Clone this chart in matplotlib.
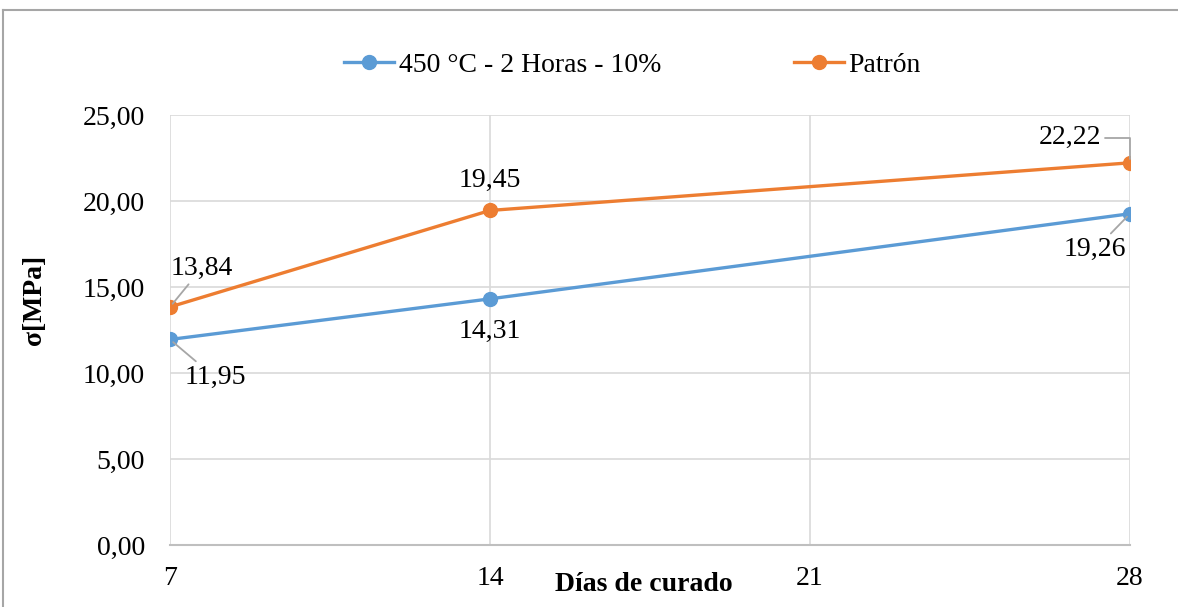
import matplotlib.pyplot as plt
from matplotlib.lines import Line2D
from matplotlib.ticker import FuncFormatter

plt.rcParams['font.family'] = ['Liberation Serif', 'DejaVu Serif']

# Resistencia a compresión por días de curado
dias = [7, 14, 28]
serie_450 = [11.95, 14.31, 19.26]
patron = [13.84, 19.45, 22.22]
nombre_450 = '450 °C - 2 Horas - 10%'
nombre_patron = 'Patrón'

azul = '#5B9BD5'
naranja = '#ED7D31'
tam = 20

fig = plt.figure(figsize=(11.78, 6.07), dpi=100)
ax = fig.add_axes([170 / 1178, 1 - 545 / 607, 960 / 1178, 430 / 607])

ax.plot(dias, serie_450, color=azul, lw=2.4, marker='o', ms=10, label=nombre_450)
ax.plot(dias, patron, color=naranja, lw=2.4, marker='o', ms=10, label=nombre_patron)

ax.set_xlim(7, 28)
ax.set_ylim(0, 25)
ax.set_xticks([7, 14, 21, 28])
ax.set_yticks([0, 5, 10, 15, 20, 25])
ax.yaxis.set_major_formatter(FuncFormatter(lambda v, p: f'{v:.2f}'.replace('.', ',')))
ax.tick_params(length=0, labelsize=tam)
ax.tick_params(axis='x', pad=15)
ax.tick_params(axis='y', pad=18)
ax.grid(True, color='#D9D9D9', lw=1.2)
ax.set_axisbelow(True)
for s in ['top', 'right', 'left']:
    ax.spines[s].set_visible(False)
ax.spines['bottom'].set_color('#BFBFBF')
ax.spines['bottom'].set_linewidth(1.5)

ax.set_xlabel('Días de curado', fontsize=tam, fontweight='bold')
ax.xaxis.set_label_coords(0.494, -0.062)
ax.set_ylabel('σ[MPa]', fontsize=tam, fontweight='bold')
ax.yaxis.set_label_coords(-0.128, 0.57)

# etiquetas de datos
guia = dict(arrowstyle='-', color='#A6A6A6', lw=1.3, shrinkA=1, shrinkB=3)
etiquetas = [
    (dias[0], patron[0], (32, 39), guia),
    (dias[0], serie_450[0], (45, -38), guia),
    (dias[1], patron[1], (0, 30), None),
    (dias[1], serie_450[1], (0, -33), None),
    (dias[2], patron[2], (-60, 25), dict(guia, connectionstyle='angle,angleA=0,angleB=90,rad=0')),
    (dias[2], serie_450[2], (-35, -36), guia),
]
for x, y, off, flecha in etiquetas:
    ax.annotate(f'{y:.2f}'.replace('.', ','), (x, y), xytext=off, textcoords='offset pixels',
                ha='center', va='center', fontsize=tam, arrowprops=flecha,
                annotation_clip=False)

fig.legend(loc='center', bbox_to_anchor=(0.537, 1 - 65 / 607), ncol=2, frameon=False,
           prop=dict(family=['Liberation Serif', 'DejaVu Serif'], size=tam),
           handlelength=1.8, columnspacing=4.8, handletextpad=0.15)

# marco del gráfico
borde = dict(color='#A6A6A6', lw=1.5, transform=fig.transFigure)
fig.add_artist(Line2D([3 / 1178, 3 / 1178], [0, 1 - 10 / 607], **borde))
fig.add_artist(Line2D([3 / 1178, 1], [1 - 10 / 607, 1 - 10 / 607], **borde))

fig.savefig('out.png', dpi=100)
